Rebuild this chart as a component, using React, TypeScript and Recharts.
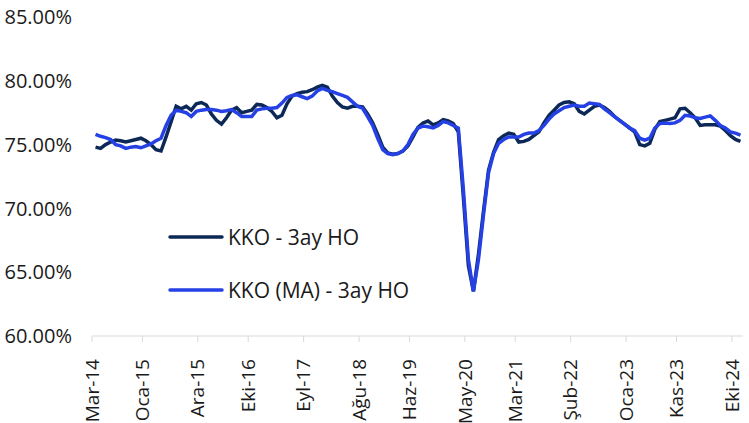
import { LineChart, Line, XAxis, YAxis, Legend } from "recharts";

// monthly points, Mar-14 .. Kas-24
const kko = [
  74.8, 74.7, 75.0, 75.2, 75.35, 75.3, 75.2, 75.3, 75.4, 75.5,
  75.3, 75.0, 74.6, 74.5, 75.6, 76.8, 78.0, 77.8, 78.0, 77.7,
  78.2, 78.3, 78.1, 77.4, 76.9, 76.6, 77.1, 77.7, 77.9, 77.5,
  77.6, 77.7, 78.15, 78.1, 77.9, 77.6, 77.1, 77.3, 78.2, 78.8,
  79.0, 79.1, 79.15, 79.3, 79.5, 79.65, 79.5, 78.8, 78.3, 77.95,
  77.85, 78.0, 78.0, 77.95, 77.4, 76.7, 75.8, 74.8, 74.35, 74.25,
  74.3, 74.5, 74.9, 75.6, 76.35, 76.7, 76.85, 76.55, 76.7, 76.95,
  76.85, 76.65, 76.0, 70.9, 65.5, 63.5, 66.4, 69.8, 73.0, 74.4,
  75.4, 75.7, 75.9, 75.8, 75.2, 75.25, 75.4, 75.7, 76.0, 76.7,
  77.3, 77.7, 78.1, 78.3, 78.35, 78.2, 77.6, 77.4, 77.7, 78.0,
  78.1, 77.9, 77.6, 77.2, 76.9, 76.6, 76.3, 76.0, 75.0, 74.9,
  75.1, 76.2, 76.8, 76.9, 77.0, 77.1, 77.8, 77.85, 77.5, 77.1,
  76.5, 76.55, 76.55, 76.55, 76.45, 76.1, 75.7, 75.4, 75.25,
];

const kkoMa = [
  75.8, 75.65, 75.55, 75.4, 75.0, 74.9, 74.7, 74.8, 74.85, 74.75,
  74.9, 75.05, 75.3, 75.5, 76.5, 77.3, 77.7, 77.6, 77.5, 77.2,
  77.6, 77.7, 77.75, 77.75, 77.7, 77.6, 77.65, 77.75, 77.5, 77.2,
  77.2, 77.2, 77.7, 77.8, 77.85, 77.85, 77.9, 78.25, 78.7, 78.85,
  78.9, 78.75, 78.6, 78.8, 79.2, 79.4, 79.25, 79.15, 79.0, 78.85,
  78.7, 78.35, 78.0, 77.85, 77.2, 76.5, 75.5, 74.6, 74.3, 74.2,
  74.3, 74.5, 75.0, 75.8, 76.3, 76.45, 76.4, 76.3, 76.5, 76.8,
  76.7, 76.5, 76.3, 71.5, 66.0, 63.5, 66.0, 69.5, 72.8, 74.3,
  75.1, 75.4, 75.6, 75.6, 75.6, 75.8, 75.9, 75.9, 76.1, 76.5,
  77.0, 77.4, 77.65, 77.9, 78.0, 78.1, 78.0, 78.0, 78.25, 78.2,
  78.15, 77.8, 77.5, 77.2, 76.9, 76.6, 76.3, 76.1, 75.5, 75.35,
  75.5, 76.3, 76.65, 76.7, 76.65, 76.7, 76.9, 77.3, 77.25, 77.1,
  77.05, 77.15, 77.25, 76.9, 76.5, 76.3, 76.0, 75.9, 75.75,
];

const tickMonths = [0, 10, 21, 31, 42, 53, 63, 74, 84, 95, 106, 116, 127];
const tickLabels = [
  "Mar-14", "Oca-15", "Ara-15", "Eki-16", "Eyl-17", "Ağu-18", "Haz-19",
  "May-20", "Mar-21", "Şub-22", "Oca-23", "Kas-23", "Eki-24",
];
const yTicks = [60, 65, 70, 75, 80, 85];

const seriesNames = ["KKO - 3ay HO", "KKO (MA) - 3ay HO"];
const colors = ["#0C2857", "#2541E6"];

const data = kko.map((v, i) => ({ t: i + 0.7, kko: v, ma: kkoMa[i] }));

const font = "'Open Sans', 'Noto Sans', sans-serif";

const MonthTick = ({ x, y, payload }: any) => {
  const idx = tickMonths.indexOf(payload.value);
  return (
    <text
      x={x}
      y={y + 15}
      transform={`rotate(-90, ${x}, ${y + 15})`}
      textAnchor="end"
      dy="0.35em"
      fontSize={19}
      fontFamily={font}
      fill="#1a1a1a"
    >
      {tickLabels[idx]}
    </text>
  );
};

const LegendBox = () => (
  <div style={{ fontFamily: font, fontSize: 21, color: "#1a1a1a" }}>
    {seriesNames.map((name, i) => (
      <div key={name} style={{ display: "flex", alignItems: "center", height: 28, marginBottom: i === 0 ? 25.3 : 0 }}>
        <svg width={56} height={6} style={{ marginRight: 4 }}>
          <line x1={2} y1={3} x2={54} y2={3} stroke={colors[i]} strokeWidth={3.5} strokeLinecap="round" />
        </svg>
        <span>{name}</span>
      </div>
    ))}
  </div>
);

const App = () => {
  return (
    <div style={{ position: "absolute", left: 0, top: 0, background: "#fff" }}>
      <LineChart width={749} height={423} data={data} margin={{ top: 17, right: 6, left: 0, bottom: 0 }}>
        <XAxis
          dataKey="t"
          type="number"
          domain={[0, 129.2]}
          ticks={tickMonths}
          interval={0}
          height={87}
          stroke="#D9D9D9"
          tickSize={6}
          tick={<MonthTick />}
        />
        <YAxis
          domain={[60, 85]}
          ticks={yTicks}
          width={92}
          axisLine={false}
          tickLine={false}
          tickSize={0}
          tickMargin={20}
          tickFormatter={(v: number) => v.toFixed(2) + "%"}
          tick={{ fontSize: 20, fontFamily: font, fill: "#1a1a1a" }}
        />
        <Legend
          layout="vertical"
          align="center"
          verticalAlign="middle"
          content={<LegendBox />}
          wrapperStyle={{ left: 168, top: 223, width: 280 }}
        />
        <Line
          type="linear"
          dataKey="kko"
          name={seriesNames[0]}
          stroke={colors[0]}
          strokeWidth={3.5}
          dot={false}
          isAnimationActive={false}
        />
        <Line
          type="linear"
          dataKey="ma"
          name={seriesNames[1]}
          stroke={colors[1]}
          strokeWidth={3.5}
          dot={false}
          isAnimationActive={false}
        />
      </LineChart>
    </div>
  );
};

export default App;
